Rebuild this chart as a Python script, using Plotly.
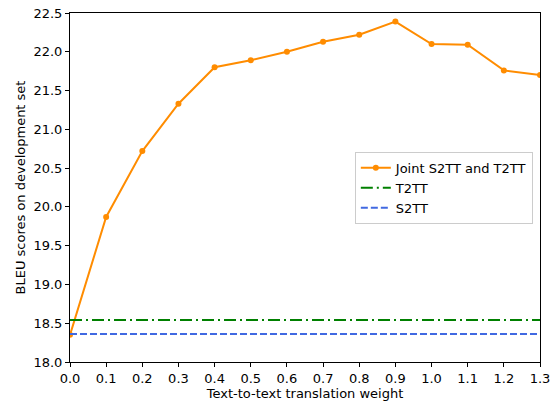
import plotly.graph_objects as go

weights = [0.0, 0.1, 0.2, 0.3, 0.4, 0.5, 0.6, 0.7, 0.8, 0.9, 1.0, 1.1, 1.2, 1.3]
joint = [18.35, 19.87, 20.72, 21.33, 21.80, 21.89, 22.00, 22.13, 22.22, 22.39, 22.10, 22.09, 21.76, 21.70]
t2tt = 18.54
s2tt = 18.36
x_ticks = [0.0, 0.1, 0.2, 0.3, 0.4, 0.5, 0.6, 0.7, 0.8, 0.9, 1.0, 1.1, 1.2, 1.3]
y_ticks = [18.0, 18.5, 19.0, 19.5, 20.0, 20.5, 21.0, 21.5, 22.0, 22.5]

fig = go.Figure()
fig.add_trace(go.Scatter(x=weights, y=joint, mode="lines+markers", name="Joint S2TT and T2TT",
                         line=dict(color="darkorange", width=2), marker=dict(size=6, color="darkorange")))
fig.add_trace(go.Scatter(x=[weights[0], weights[-1]], y=[t2tt, t2tt], mode="lines", name="T2TT",
                         line=dict(color="green", width=2, dash="12px,4px,2px,4px")))
fig.add_trace(go.Scatter(x=[weights[0], weights[-1]], y=[s2tt, s2tt], mode="lines", name="S2TT",
                         line=dict(color="royalblue", width=2, dash="7px,3px")))

axis_common = dict(showline=True, linecolor="black", linewidth=1, mirror=True, ticks="outside",
                   ticklen=4, tickwidth=1, tickcolor="black", showgrid=False, zeroline=False,
                   automargin=False, tickfont=dict(size=13, color="black"))
fig.update_xaxes(range=[0, 1.3], tickvals=x_ticks, ticktext=[f"{v:.1f}" for v in x_ticks],
                 title=dict(text="Text-to-text translation weight", font=dict(size=13, color="black"), standoff=6),
                 **axis_common)
fig.update_yaxes(range=[18.0, 22.5], tickvals=y_ticks, ticktext=[f"{v:.1f}" for v in y_ticks],
                 title=dict(text="BLEU scores on development set", font=dict(size=13, color="black"), standoff=4),
                 **axis_common)
fig.update_layout(width=551, height=401, margin=dict(l=70, r=11, t=13, b=38.5),
                  plot_bgcolor="white", paper_bgcolor="white",
                  font=dict(family="DejaVu Sans", size=13, color="black"),
                  legend=dict(x=0.606, y=0.602, xanchor="left", yanchor="top",
                              bgcolor="rgba(255,255,255,0.8)", bordercolor="#cccccc", borderwidth=1,
                              font=dict(size=13), tracegroupgap=0, itemwidth=30))
fig.write_html("out.html", config={"displayModeBar": False},
               post_script="document.body.style.margin='0';document.body.style.overflow='hidden';")
